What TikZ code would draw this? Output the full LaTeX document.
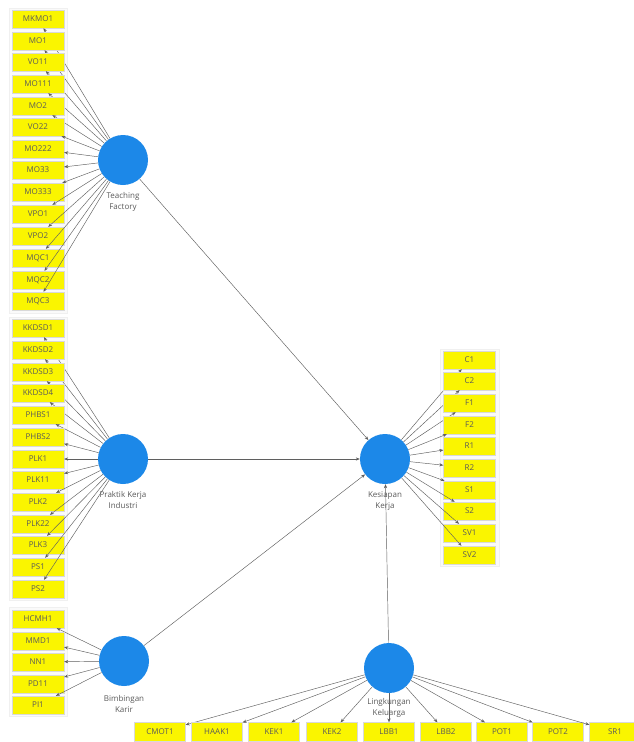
\documentclass[tikz,border=0pt]{standalone}
\usepackage{fontspec}
\setmainfont{Open Sans}
\usetikzlibrary{arrows.meta}
\definecolor{boxyellow}{RGB}{250,245,0}
\definecolor{latblue}{RGB}{28,136,232}
\definecolor{txtgray}{RGB}{90,90,90}
\definecolor{linegray}{RGB}{95,95,95}
\tikzset{
  ind/.style={rectangle, fill=boxyellow, draw=black!15, line width=0.3pt, minimum width=52pt, minimum height=18pt, inner sep=0pt, font=\fontsize{8}{9}\selectfont, text=txtgray},
  lat/.style={circle, fill=latblue, minimum size=50pt, inner sep=0pt},
  latlabel/.style={font=\fontsize{8}{11.5}\selectfont, text=txtgray, align=center},
  con/.style={draw=linegray, line width=0.45pt, -{Stealth[length=4pt,width=3.2pt]}},
  panel/.style={fill=black!2, draw=black!6, line width=0.3pt}
}
\begin{document}
\begin{tikzpicture}[x=1pt,y=-1pt]
\useasboundingbox (0,0) rectangle (633,742);
\fill[white] (0,0) rectangle (633,742);
% panels
\path[panel] (9,8) rectangle (67,313);
\path[panel] (9,317) rectangle (67,600);
\path[panel] (9,607) rectangle (67,716);
\path[panel] (440,349) rectangle (499,566);
% latent variables
\node[lat] (tf) at (123,160) {};
\node[lat] (pki) at (123,459) {};
\node[lat] (bk) at (124,661) {};
\node[lat] (kk) at (385,459) {};
\node[lat] (lk) at (389,668) {};
\node[latlabel] (tfl) at (123,202) {Teaching\\Factory};
\node[latlabel] (pkil) at (123,500) {Praktik Kerja\\Industri};
\node[latlabel] (bkl) at (124,704) {Bimbingan\\Karir};
\node[latlabel] (kkl) at (385,501) {Kesiapan\\Kerja};
\node[latlabel] (lkl) at (389,708) {Lingkungan\\Keluarga};
% Teaching Factory indicators
\foreach \n/\y in {MKMO1/19, MO1/41, VO11/62, MO111/84, MO2/106, VO22/127, MO222/149, MO33/170, MO333/192, VPO1/214, VPO2/236, MQC1/258, MQC2/280, MQC3/301} {
  \node[ind] (\n) at (38,\y) {\n};
  \draw[con] (tf) -- (\n);
}
% Praktik Kerja Industri indicators
\foreach \n/\y in {KKDSD1/328, KKDSD2/350, KKDSD3/372, KKDSD4/393, PHBS1/415, PHBS2/437, PLK1/459, PLK11/480, PLK2/502, PLK22/524, PLK3/545, PS1/567, PS2/589} {
  \node[ind] (\n) at (38,\y) {\n};
  \draw[con] (pki) -- (\n);
}
% Bimbingan Karir indicators
\foreach \n/\y in {HCMH1/619, MMD1/641, NN1/662, PD11/684, PI1/705} {
  \node[ind] (\n) at (38,\y) {\n};
  \draw[con] (bk) -- (\n);
}
% Kesiapan Kerja indicators
\foreach \n/\y in {C1/360, C2/381, F1/403, F2/425, R1/446, R2/468, S1/490, S2/511, SV1/533, SV2/555} {
  \node[ind] (\n) at (469.5,\y) {\n};
  \draw[con] (kk) -- (\n);
}
% Lingkungan Keluarga indicators
\foreach \n/\x in {CMOT1/160, HAAK1/217, KEK1/274, KEK2/332, LBB1/389, LBB2/446, POT1/502, POT2/558, SR1/615} {
  \node[ind, minimum width=51pt, minimum height=19pt] (\n) at (\x,732) {\n};
  \draw[con] (lk) -- (\n);
}
% structural paths
\draw[con] (tf) -- (kk);
\draw[con] (pki) -- (kk);
\draw[con] (bk) -- (kk);
\draw[con] (lk) -- (kk);
\end{tikzpicture}
\end{document}
